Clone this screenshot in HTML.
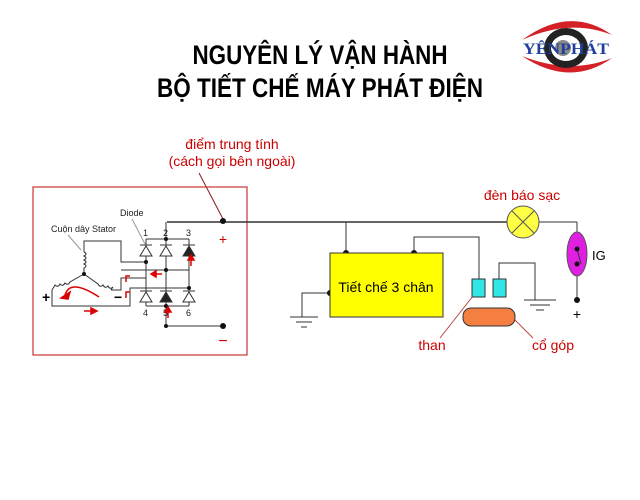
<!DOCTYPE html>
<html><head><meta charset="utf-8"><style>
html,body{margin:0;padding:0;background:#fff;}
svg{display:block;}
text{font-family:"Liberation Sans",sans-serif;}
</style></head><body>
<svg width="640" height="500" viewBox="0 0 640 500" xmlns="http://www.w3.org/2000/svg">
<!-- logo -->
<g>
<path d="M522,40 Q570,5 612,35 Q570,18 522,40Z" fill="#d42027"/>
<path d="M522,56 Q570,88 612,58 Q570,75 522,56Z" fill="#d42027"/>
<ellipse cx="566" cy="48" rx="22" ry="20" fill="#222"/>
<ellipse cx="566" cy="48" rx="15" ry="13" fill="#fff"/>
<circle cx="563" cy="48" r="8" fill="#888"/>
<text x="566" y="54" style="font-family:'Liberation Serif',serif;font-weight:bold;font-size:16px" fill="#1f3f9a" text-anchor="middle" textLength="86" lengthAdjust="spacingAndGlyphs">YÊNPHÁT</text>
</g>
<!-- title -->
<text x="320" y="64" font-size="27" font-weight="bold" text-anchor="middle" textLength="255" lengthAdjust="spacingAndGlyphs">NGUYÊN LÝ VẬN HÀNH</text>
<text x="320" y="97" font-size="27" font-weight="bold" text-anchor="middle" textLength="326" lengthAdjust="spacingAndGlyphs">BỘ TIẾT CHẾ MÁY PHÁT ĐIỆN</text>
<!-- red labels -->
<text x="232" y="149" font-size="14" fill="#c00" text-anchor="middle">điểm trung tính</text>
<text x="232" y="166" font-size="14" fill="#c00" text-anchor="middle">(cách gọi bên ngoài)</text>
<line x1="199" y1="173" x2="223" y2="219" stroke="#8b1a1a" stroke-width="1"/>
<text x="522" y="200" font-size="14" fill="#c00" text-anchor="middle">đèn báo sạc</text>
<text x="432" y="350" font-size="14" fill="#c00" text-anchor="middle">than</text>
<text x="553" y="350" font-size="14" fill="#c00" text-anchor="middle">cổ góp</text>
<line x1="440" y1="338" x2="473" y2="296" stroke="#b44" stroke-width="1"/>
<line x1="515" y1="320" x2="533" y2="338" stroke="#b44" stroke-width="1"/>
<!-- red box -->
<rect x="33" y="187" width="214" height="168" fill="none" stroke="#c33" stroke-width="1.2"/>
<g stroke="#333" stroke-width="1" fill="none">
<line x1="167" y1="222" x2="507" y2="222" stroke-width="1.5"/>
<line x1="539" y1="222" x2="577" y2="222"/>
<line x1="577" y1="222" x2="577" y2="300"/>
<line x1="346" y1="222" x2="346" y2="253"/>
<polyline points="414,253 414,237 479,237 479,279"/>
<polyline points="499,279 499,263 535,263 535,300"/>
<line x1="524" y1="300" x2="556" y2="300"/><line x1="530" y1="305" x2="550" y2="305"/><line x1="536" y1="310" x2="544" y2="310"/>
<polyline points="330,293 302,293 302,317"/>
<line x1="290" y1="317" x2="318" y2="317"/><line x1="296" y1="322" x2="312" y2="322"/><line x1="301" y1="327" x2="307" y2="327"/>
<line x1="146" y1="239" x2="189" y2="239"/>
<line x1="146" y1="239" x2="146" y2="306"/>
<line x1="166" y1="222" x2="166" y2="326"/>
<line x1="189" y1="239" x2="189" y2="306"/>
<line x1="146" y1="306" x2="189" y2="306"/>
<line x1="166" y1="326" x2="223" y2="326"/>
<polyline points="146,262 121,262 121,241 84,241 84,252"/>
<line x1="121" y1="270" x2="189" y2="270"/>
<polyline points="146,278 121,278 121,290 111,290"/>
<polyline points="52,290 52,306 130,306 130,288 189,288"/>
<line x1="189" y1="270" x2="189" y2="288"/>
<path d="M84,252 q4,2 0,4 q4,2 0,4 q4,2 0,4 q4,2 0,4 L84,274"/>
<path d="M84,274 L98,284 q2,4 5,1 q2,4 5,1 q2,4 5,1 L111,290"/>
<path d="M84,274 L70,282 q-2,4 -5,1 q-2,4 -5,1 q-2,4 -5,1 L52,290"/>
<line x1="68" y1="235" x2="81" y2="250" stroke="#999"/>
<line x1="132" y1="219" x2="145" y2="244" stroke="#999"/>
</g>
<g fill="#fff" stroke="#333" stroke-width="1">
<polygon points="140,256 152,256 146,246"/><line x1="140" y1="245" x2="152" y2="245"/>
<polygon points="160,256 172,256 166,246"/><line x1="160" y1="245" x2="172" y2="245"/>
<polygon points="183,256 195,256 189,246" fill="#222"/><line x1="183" y1="245" x2="195" y2="245"/>
<polygon points="140,302 152,302 146,292"/><line x1="140" y1="291" x2="152" y2="291"/>
<polygon points="160,302 172,302 166,292" fill="#222"/><line x1="160" y1="291" x2="172" y2="291"/>
<polygon points="183,302 195,302 189,292"/><line x1="183" y1="291" x2="195" y2="291"/>
</g>
<g fill="#111">
<circle cx="223" cy="221" r="3"/><circle cx="223" cy="326" r="3"/>
<circle cx="166" cy="239" r="2"/><circle cx="146" cy="262" r="2"/><circle cx="166" cy="270" r="2"/>
<circle cx="189" cy="288" r="2"/><circle cx="166" cy="306" r="2"/><circle cx="166" cy="326" r="2"/><circle cx="84" cy="274" r="2"/>
<circle cx="346" cy="253" r="3"/><circle cx="414" cy="253" r="3"/><circle cx="330" cy="293" r="3"/>
</g>
<g font-size="9" fill="#222">
<text x="51" y="232">Cuộn dây Stator</text><text x="120" y="216">Diode</text>
<text x="143" y="236">1</text><text x="163" y="236">2</text><text x="186" y="236">3</text>
<text x="143" y="316">4</text><text x="163" y="316">5</text><text x="186" y="316">6</text>
</g>
<text x="42" y="302" font-size="14" font-weight="bold">+</text>
<text x="114" y="302" font-size="14" font-weight="bold">−</text>
<text x="223" y="244" font-size="14" fill="#c00" text-anchor="middle">+</text>
<text x="223" y="346" font-size="16" fill="#c00" text-anchor="middle">−</text>
<g stroke="#d00" stroke-width="1.5" fill="#d00">
<path d="M99,297 Q70,278 65,295" fill="none"/><polygon points="61,298 70,292 68,299"/>
<line x1="84" y1="311" x2="93" y2="311"/><polygon points="97,311 91,308 91,314"/>
<line x1="191" y1="266" x2="191" y2="258"/><polygon points="191,255 188,260 194,260"/>
<line x1="168" y1="318" x2="168" y2="310"/><polygon points="168,307 165,312 171,312"/>
<line x1="162" y1="274" x2="154" y2="274"/><polygon points="151,274 156,271 156,277"/>
<polyline points="130,276 126,276 126,282" fill="none"/>
<polyline points="130,292 126,292 126,298" fill="none"/>
</g>
<rect x="330" y="253" width="113" height="64" fill="#ffff00" stroke="#333"/>
<text x="386" y="292" font-size="14" text-anchor="middle">Tiết chế 3 chân</text>
<rect x="472" y="279" width="13" height="18" fill="#33e6e6" stroke="#333"/>
<rect x="493" y="279" width="13" height="18" fill="#33e6e6" stroke="#333"/>
<rect x="463" y="308" width="52" height="18" rx="8" fill="#f47f40" stroke="#333"/>
<circle cx="523" cy="222" r="16" fill="#ffff44" stroke="#555"/>
<line x1="512" y1="211" x2="534" y2="233" stroke="#555"/><line x1="534" y1="211" x2="512" y2="233" stroke="#555"/>
<ellipse cx="577" cy="254" rx="10" ry="22" fill="#e020e0" stroke="#555"/>
<line x1="577" y1="249" x2="581" y2="264" stroke="#333"/>
<circle cx="577" cy="249" r="2.5" fill="#111"/><circle cx="577" cy="264" r="2.5" fill="#111"/>
<circle cx="577" cy="300" r="3" fill="#111"/>
<text x="592" y="260" font-size="13">IG</text>
<text x="577" y="319" font-size="14" text-anchor="middle">+</text>
</svg>
</body></html>
